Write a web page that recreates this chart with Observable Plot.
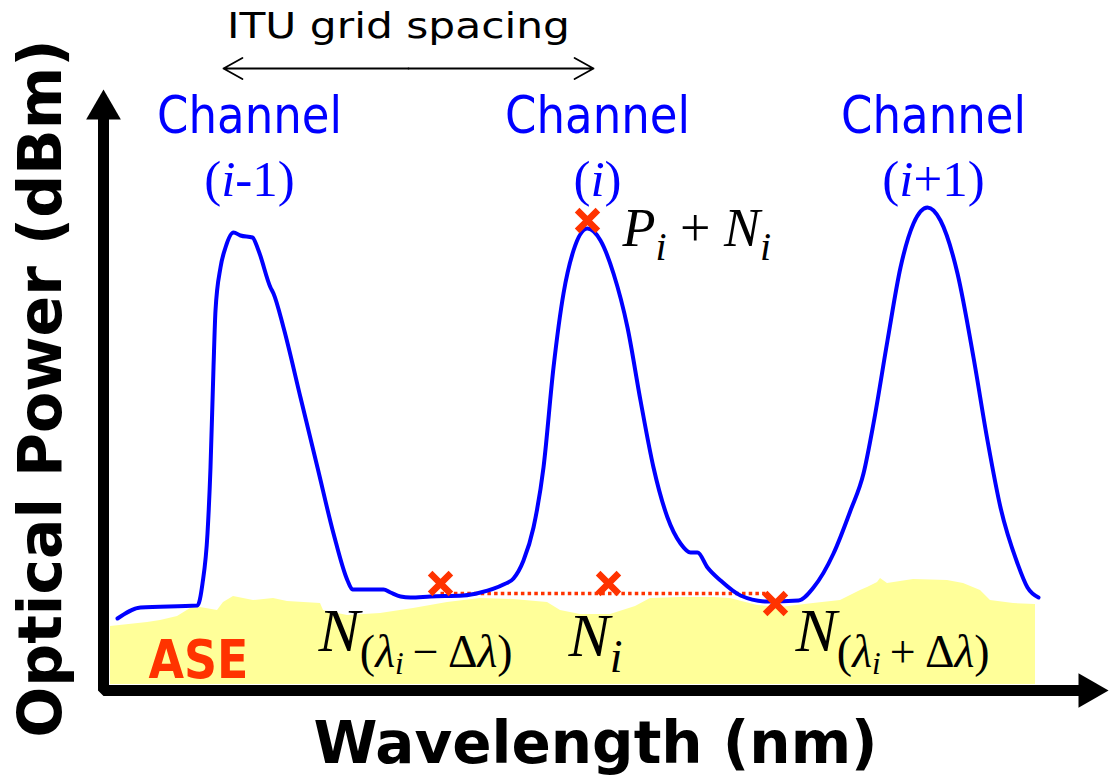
<!DOCTYPE html>
<html>
<head>
<meta charset="utf-8">
<script src="https://cdn.jsdelivr.net/npm/d3@7"></script>
<script src="https://cdn.jsdelivr.net/npm/@observablehq/plot@0.6"></script>
<style>
  html, body { margin: 0; padding: 0; background: #fff; }
  svg { display: block; }
</style>
</head>
<body>
<div id="chart"></div>
<script>
// ---- Data (wavelength / power in arbitrary units) ----
// Measured optical spectrum (blue trace)
const traceWavelength = [14,37,94,99,104,107,110,112,117,122,130,137,149,155,167,170,180,197,214,230,244,249,280,287,297,307,327,360,377,400,410,420,430,440,450,460,470,484,497,510,524,537,550,564,577,587,594,604,617,637,664,695,710,730,747,760,770,784,797,810,824,837,854,870,884,897,914,924,935];
const tracePower      = [72,83,85,107,157,223,323,380,423,443,458,455,453,440,403,397,363,293,223,157,110,101,101,98,94,93,94,95,98,106,112,130,163,223,323,397,440,462,450,417,363,290,223,173,147,138,138,123,110,95,89,90,103,137,180,217,267,350,423,467,483,470,417,333,250,183,127,103,93];

// ASE noise floor (yellow)
const aseWavelength = [7,44,57,74,87,97,114,120,130,150,170,184,217,220,244,277,310,344,377,410,444,457,477,507,532,547,577,610,627,654,677,710,737,757,764,774,777,784,810,844,860,877,887,910,932];
const asePower      = [64,68,70,74,82,83,80,88,94,90,92,89,87,80,75,77,82,88,92,91,88,80,76,76,84,92,93,93,92,85,83,87,90,100,103,108,112,107,111,110,107,100,90,87,86];
const aseFloor = 6;

// Measurement points (red crosses): P_i+N_i, N(λi−Δλ), N_i, N(λi+Δλ)
const markerWavelength = [484, 337, 505, 672];
const markerPower      = [470, 107, 107, 87];

// Interpolated noise level (red dotted)
const noiseWavelength = [337, 662];
const noisePower      = [97, 97];

// Labels
const channelTitles  = ["Channel", "Channel", "Channel"];
const channelIndexes = ["(*i*-1)", "(*i*)", "(*i*+1)"];
const xLabel = "Wavelength (nm)";
const yLabel = "Optical Power (dBm)";
const gridLabel = "ITU grid spacing";
const aseLabel = "ASE";
const peakLabel = "*P*_{*i*} + *N*_{*i*}";
const noiseLabels = ["*N*_{(*λ*_{*i*}\u2009−\u2009Δ*λ*)}", "*N*_{*i*}", "*N*_{(*λ*_{*i*}\u2009+\u2009Δ*λ*)}"];

// ---- Build tables ----
const trace = traceWavelength.map((w, i) => ({w, p: tracePower[i]}));
const ase = aseWavelength.map((w, i) => ({w, p: asePower[i], base: aseFloor}));
const markers = markerWavelength.map((w, i) => ({w, p: markerPower[i]}));
const noise = noiseWavelength.map((w, i) => ({w, p: noisePower[i]}));

// annotation anchors (data units)
const channelAnchorW = [146, 494, 830];
const titles = channelTitles.map((t, i) => ({w: channelAnchorW[i], p: 558, t}));
const indexes = channelIndexes.map((t, i) => ({w: channelAnchorW[i], p: 495, t}));
const noiseAnchors = [{w: 215, p: 40}, {w: 465, p: 35}, {w: 692, p: 40}];
const noiseText = noiseLabels.map((t, i) => ({...noiseAnchors[i], t}));

const axisPath = [{w: 0, p: 572}, {w: 0, p: 0}, {w: 977, p: 0}];
const arrowHeads = [{w: 0, p: 581, a: 0}, {w: 985, p: 0, a: 90}];
const ituArrows = [{x1: 305, x2: 120, y: 622}, {x1: 305, x2: 490, y: 622}];

const RED = "#FF3300", BLUE = "#0000FF", YELLOW = "#FFFF99";
const SANS = "Tahoma, 'DejaVu Sans', sans-serif";
const SERIF = "'Times New Roman', 'Liberation Serif', serif";

const chart = Plot.plot({
  width: 1111,
  height: 776,
  margin: 0,
  x: {domain: [-103, 1008], axis: null},
  y: {domain: [-86, 690], axis: null},
  style: {background: "white", overflow: "visible"},
  marks: [
    Plot.area(ase, {x1: "w", y1: "base", y2: "p", fill: YELLOW, curve: "linear"}),
    Plot.line(noise, {x: "w", y: "p", stroke: RED, strokeWidth: 3.5, strokeDasharray: "3.5,3.2", strokeLinecap: "butt"}),
    Plot.line(trace, {x: "w", y: "p", stroke: BLUE, strokeWidth: 4, curve: "monotone-x"}),
    Plot.dot(markers, {x: "w", y: "p", symbol: "times", r: 9.5, stroke: RED, fill: "none", strokeWidth: 6.5}),
    Plot.line(axisPath, {x: "w", y: "p", stroke: "black", strokeWidth: 11, strokeLinejoin: "miter", strokeLinecap: "butt"}),
    Plot.dot(arrowHeads, {x: "w", y: "p", symbol: "triangle", r: 12.9, fill: "black", stroke: "none", rotate: "a"}),
    Plot.arrow(ituArrows, {x1: "x1", y1: "y", x2: "x2", y2: "y", stroke: "black", strokeWidth: 1.8, headLength: 18, headAngle: 58}),
    Plot.text([{w: 295, p: 653, t: gridLabel}], {x: "w", y: "p", text: "t", fontFamily: SANS, fontSize: 35, fill: "black", textAnchor: "middle", lineAnchor: "bottom"}),
    Plot.text(titles, {x: "w", y: "p", text: "t", fontFamily: SANS, fontSize: 52, fill: BLUE, textAnchor: "middle", lineAnchor: "bottom"}),
    Plot.text(indexes, {x: "w", y: "p", text: "t", fontFamily: SERIF, fontSize: 51, fill: BLUE, textAnchor: "middle", lineAnchor: "bottom"}),
    Plot.text([{w: 519, p: 445, t: peakLabel}], {x: "w", y: "p", text: "t", fontFamily: SERIF, fontSize: 54, fill: "black", textAnchor: "start", lineAnchor: "bottom"}),
    Plot.text(noiseText, {x: "w", y: "p", text: "t", fontFamily: SERIF, fontSize: 62, fill: "black", textAnchor: "start", lineAnchor: "bottom"}),
    Plot.text([{w: 45, p: 13, t: aseLabel}], {x: "w", y: "p", text: "t", fontFamily: SANS, fontWeight: "bold", fontSize: 53, fill: RED, textAnchor: "start", lineAnchor: "bottom"}),
    Plot.text([{w: 492, p: -72, t: xLabel}], {x: "w", y: "p", text: "t", fontFamily: SANS, fontWeight: "bold", fontSize: 58, fill: "black", textAnchor: "middle", lineAnchor: "bottom"}),
    Plot.text([{w: -43, p: 302, t: yLabel}], {x: "w", y: "p", text: "t", fontFamily: SANS, fontWeight: "bold", fontSize: 60, fill: "black", textAnchor: "middle", lineAnchor: "bottom", rotate: -90})
  ]
});

document.getElementById("chart").appendChild(chart);

// ---- text post-processing: fit widths, rich math text ----
const fitWidths = {"Channel": 185, "ITU grid spacing": 343, "ASE": 100};

function richify(el, s) {
  const base = parseFloat(getComputedStyle(el).fontSize) || 50;
  const runs = [];
  let it = false;
  const stack = [0];
  for (let k = 0; k < s.length; k++) {
    const c = s[k];
    if (c === "*") { it = !it; continue; }
    if (c === "_" && s[k + 1] === "{") { stack.push(stack[stack.length - 1] + 1); k++; continue; }
    if (c === "}") { stack.pop(); continue; }
    const lvl = stack[stack.length - 1];
    const last = runs[runs.length - 1];
    if (last && last.it === it && last.lvl === lvl) last.t += c;
    else runs.push({t: c, it, lvl});
  }
  el.textContent = "";
  let cur = 0;
  for (const r of runs) {
    let size = base, shift = 0;
    for (let l = 1; l <= r.lvl; l++) {
      shift += size * (l === 1 ? 0.27 : 0.14);
      size *= (l === 1 ? 0.74 : 0.68);
    }
    const ts = document.createElementNS("http://www.w3.org/2000/svg", "tspan");
    ts.setAttribute("font-size", size.toFixed(2));
    ts.setAttribute("font-style", r.it ? "italic" : "normal");
    if (shift !== cur) ts.setAttribute("dy", (shift - cur).toFixed(2));
    cur = shift;
    ts.textContent = r.t;
    el.appendChild(ts);
  }
}

d3.select(chart).selectAll("text").each(function () {
  const s = this.textContent;
  if (fitWidths[s]) {
    this.setAttribute("textLength", fitWidths[s]);
    this.setAttribute("lengthAdjust", "spacingAndGlyphs");
  }
  if (s.includes("*")) richify(this, s);
});
</script>
</body>
</html>
